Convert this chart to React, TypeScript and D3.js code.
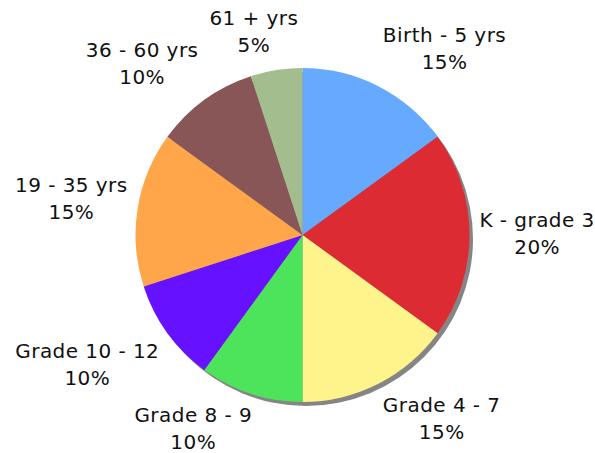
import { type RefObject, useEffect, useRef } from "react";
import * as d3 from "d3";

const categories = [
  "Birth - 5 yrs",
  "K - grade 3",
  "Grade 4 - 7",
  "Grade 8 - 9",
  "Grade 10 - 12",
  "19 - 35 yrs",
  "36 - 60 yrs",
  "61 + yrs",
];

const shares = [15, 20, 15, 10, 10, 15, 10, 5];

const colors = [
  "#66aaff",
  "#dd2b33",
  "#fff38b",
  "#4de35a",
  "#6611ff",
  "#ffa64a",
  "#885656",
  "#a3bd8f",
];

const WIDTH = 595;
const HEIGHT = 453;
const CX = 302.5;
const CY = 235;
const RADIUS = 167;
const LABEL_RADIUS = 177;
const LINE_GAP = 27;
const BOX_H = 54;

interface Slice {
  label: string;
  value: number;
  color: string;
}

const slices: Slice[] = categories.map((c, i) => ({
  label: c,
  value: shares[i],
  color: colors[i],
}));

const clamp = (v: number) => Math.max(-1, Math.min(1, v));

const drawChart = (svgRef: RefObject<SVGSVGElement>) => {
  const svg = d3
    .select(svgRef.current)
    .attr("width", WIDTH)
    .attr("height", HEIGHT);

  const pie = d3
    .pie<Slice>()
    .value((d) => d.value)
    .sort(null);
  const arcs = pie(slices);
  const arc = d3.arc<d3.PieArcDatum<Slice>>().innerRadius(0).outerRadius(RADIUS);

  // drop shadow
  svg
    .append("circle")
    .attr("cx", CX + 3.5)
    .attr("cy", CY + 4)
    .attr("r", RADIUS)
    .style("fill", "#858585");

  const g = svg.append("g").attr("transform", `translate(${CX},${CY})`);

  g.selectAll("path")
    .data(arcs)
    .enter()
    .append("path")
    .attr("d", arc)
    .style("fill", (d) => d.data.color);

  const labels = svg
    .append("g")
    .style("font-family", "'DejaVu Sans', Verdana, sans-serif")
    .style("font-size", "20px")
    .style("letter-spacing", "0.45px")
    .style("fill", "#111");

  arcs.forEach((d) => {
    const a = (d.startAngle + d.endAngle) / 2;
    const s = Math.sin(a);
    const c = Math.cos(a);
    const px = CX + LABEL_RADIUS * s;
    const py = CY - LABEL_RADIUS * c;

    const t = labels.append("text").attr("text-anchor", "middle");
    const lines = [d.data.label, `${d.data.value}%`];
    const spans = t
      .selectAll("tspan")
      .data(lines)
      .enter()
      .append("tspan")
      .attr("x", 0)
      .attr("y", (_, i) => i * LINE_GAP)
      .text((l) => l);

    let w = 0;
    spans.each(function () {
      w = Math.max(w, (this as SVGTSpanElement).getComputedTextLength());
    });

    const xc = px + (clamp(s * 3) * w) / 2;
    const top = py - BOX_H / 2 - (clamp(c * 1.7) * BOX_H) / 2;

    spans.attr("x", xc).attr("y", (_, i) => top + 19 + i * LINE_GAP);
  });
};

const clearChart = (svgRef: RefObject<SVGSVGElement>) => {
  d3.select(svgRef.current).selectAll("*").remove();
};

const App = () => {
  const svgRef = useRef<SVGSVGElement>(null);

  useEffect(() => {
    drawChart(svgRef);
    return () => {
      clearChart(svgRef);
    };
  }, [svgRef]);

  return (
    <div style={{ position: "absolute", left: 0, top: 0, background: "#fff" }}>
      <svg ref={svgRef} style={{ display: "block" }}></svg>
    </div>
  );
};

export default App;
